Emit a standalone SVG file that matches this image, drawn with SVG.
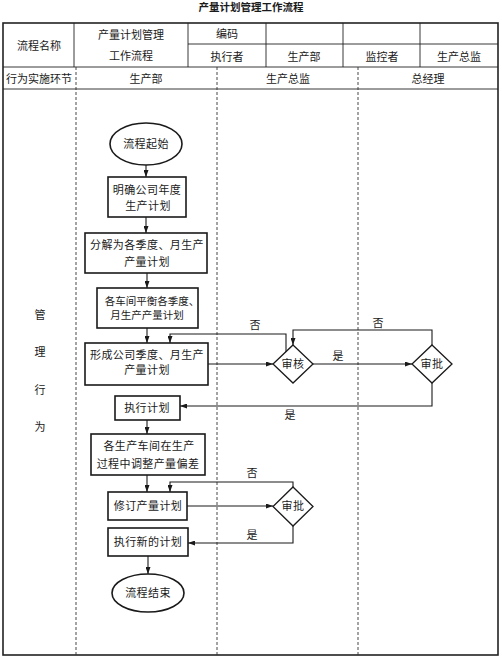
<svg xmlns="http://www.w3.org/2000/svg" width="502" height="658" viewBox="0 0 502 658">
<defs>
<style>
text{font-family:"Noto Sans CJK SC","Liberation Serif",serif;fill:#1a1a1a;text-anchor:middle;font-size:11px}
.t{font-size:10.5px;font-weight:bold}
.f{letter-spacing:0.4px}
.ln{stroke:#222;stroke-width:0.9;fill:none}
.bd{stroke:#222;stroke-width:1.6;fill:none}
.ds{stroke:#333;stroke-width:0.9;fill:none;stroke-dasharray:3,2}
.bx{fill:#fff;stroke:#1a1a1a;stroke-width:1.6}
.dm{fill:#fff;stroke:#1a1a1a;stroke-width:1.3}
.cn{stroke:#1a1a1a;stroke-width:1.1;fill:none}
</style>
<marker id="ah" markerWidth="7" markerHeight="5" refX="7" refY="2.5" orient="auto" markerUnits="userSpaceOnUse">
<path d="M0,0 L7,2.5 L0,5 z" fill="#1a1a1a"/>
</marker>
</defs>
<rect x="0" y="0" width="502" height="658" fill="#fff"/>
<text class="t" x="251" y="11">产量计划管理工作流程</text>

<g id="table">
<rect class="bd" x="3" y="23" width="495" height="632"/>
<path class="ln" d="M188,44 H498 M3,67 H498 M3,89 H498 M74,23 V67 M188,23 V67 M266,23 V67 M343,23 V67 M420,23 V67"/>
<path class="ds" d="M76,67 V655 M217,67 V655 M358,67 V655"/>
<text x="39" y="50">流程名称</text>
<text x="131" y="39">产量计划管理</text>
<text x="131" y="60">工作流程</text>
<text x="227" y="38">编码</text>
<text x="227" y="61">执行者</text>
<text x="304" y="61">生产部</text>
<text x="382" y="61">监控者</text>
<text x="459" y="61">生产总监</text>
<text x="39" y="83">行为实施环节</text>
<text x="146" y="83">生产部</text>
<text x="288" y="83">生产总监</text>
<text x="428" y="83">总经理</text>
<text x="40" y="319">管</text>
<text x="40" y="356">理</text>
<text x="40" y="394">行</text>
<text x="40" y="431">为</text>
</g>

<g id="connectors">
<path class="cn" marker-end="url(#ah)" d="M146,165 V177"/>
<path class="cn" marker-end="url(#ah)" d="M146,217 V233"/>
<path class="cn" marker-end="url(#ah)" d="M147,273 V288"/>
<path class="cn" marker-end="url(#ah)" d="M147,328 V343"/>
<path class="cn" marker-end="url(#ah)" d="M208,364 H273"/>
<path class="cn" marker-end="url(#ah)" d="M286,357 V334 H170 V343"/>
<path class="cn" marker-end="url(#ah)" d="M313,364 H412"/>
<path class="cn" marker-end="url(#ah)" d="M432,345 V330 H293 V345"/>
<path class="cn" marker-end="url(#ah)" d="M432,383 V406 H180"/>
<path class="cn" marker-end="url(#ah)" d="M147,420 V434"/>
<path class="cn" marker-end="url(#ah)" d="M147,475 V492"/>
<path class="cn" marker-end="url(#ah)" d="M187,506 H273"/>
<path class="cn" marker-end="url(#ah)" d="M293,487 V482 H170 V492"/>
<path class="cn" marker-end="url(#ah)" d="M293,526 V543 H188"/>
<path class="cn" marker-end="url(#ah)" d="M148,556 V574"/>
<text x="255" y="329">否</text>
<text x="378" y="327">否</text>
<text x="338" y="360">是</text>
<text x="290" y="419">是</text>
<text x="252" y="477">否</text>
<text x="252" y="539">是</text>
</g>

<g id="start">
<ellipse class="bx" cx="146" cy="144" rx="36" ry="21"/>
<text class="f" x="146" y="148">流程起始</text>
</g>
<g id="n1">
<rect class="bx" x="108" y="177" width="78" height="40"/>
<text class="f" x="147" y="194">明确公司年度</text>
<text class="f" x="148" y="210">生产计划</text>
</g>
<g id="n2">
<rect class="bx" x="85" y="233" width="122" height="40"/>
<text class="f" x="147" y="249">分解为各季度、月生产</text>
<text class="f" x="147" y="266">产量计划</text>
</g>
<g id="n3">
<rect class="bx" x="97" y="288" width="101" height="40"/>
<text x="152" y="305" style="font-size:10.5px">各车间平衡各季度、</text>
<text x="147" y="319" style="font-size:10.5px">月生产产量计划</text>
</g>
<g id="n4">
<rect class="bx" x="85" y="343" width="123" height="42"/>
<text class="f" x="147" y="359">形成公司季度、月生产</text>
<text class="f" x="147" y="374">产量计划</text>
</g>
<g id="d1">
<polygon class="dm" points="293,345 313,364 293,383 273,364"/>
<text class="f" x="293" y="368">审核</text>
</g>
<g id="d2">
<polygon class="dm" points="432,345 452,364 432,383 412,364"/>
<text class="f" x="432" y="368">审批</text>
</g>
<g id="n5">
<rect class="bx" x="115" y="396" width="65" height="24"/>
<text class="f" x="147" y="412">执行计划</text>
</g>
<g id="n6">
<rect class="bx" x="91" y="434" width="114" height="41"/>
<text class="f" x="149" y="450">各生产车间在生产</text>
<text class="f" x="148" y="468">过程中调整产量偏差</text>
</g>
<g id="n7">
<rect class="bx" x="108" y="492" width="79" height="28"/>
<text class="f" x="148" y="510">修订产量计划</text>
</g>
<g id="d3">
<polygon class="dm" points="293,487 313,506.5 293,526 273,506.5"/>
<text class="f" x="293" y="510">审批</text>
</g>
<g id="n8">
<rect class="bx" x="108" y="528" width="80" height="28"/>
<text class="f" x="148" y="546">执行新的计划</text>
</g>
<g id="end">
<ellipse class="bx" cx="148" cy="593" rx="36" ry="19"/>
<text class="f" x="148" y="597">流程结束</text>
</g>
</svg>
